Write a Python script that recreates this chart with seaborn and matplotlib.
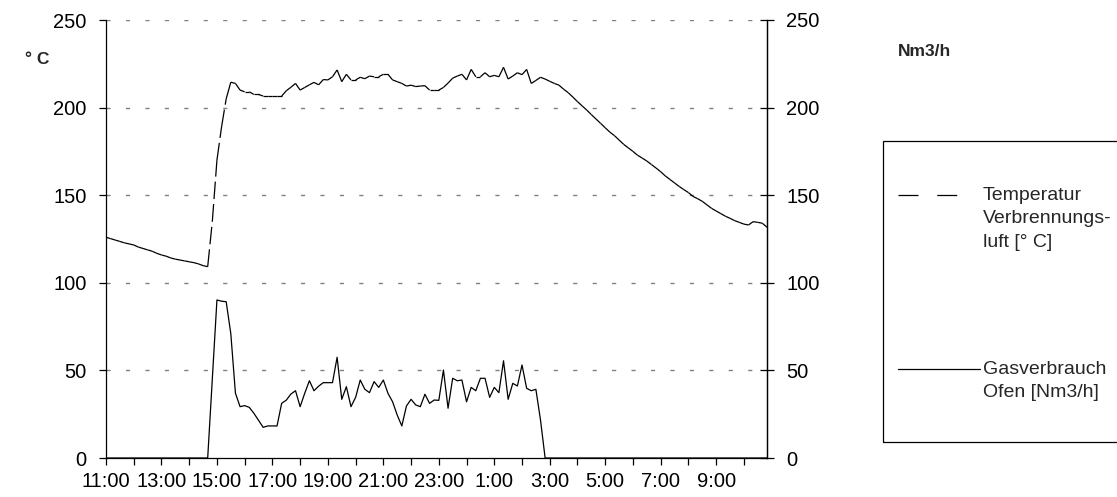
import numpy as np
import pandas as pd
import seaborn as sns
import matplotlib.pyplot as plt
from matplotlib.collections import LineCollection
from matplotlib.lines import Line2D
from matplotlib.patches import Rectangle

# 10-minute readings, 11:00 ... 10:50 next day
temp = [126, 125.2, 124.4, 123.6, 122.8, 122.2, 121.6, 120.4, 119.6, 118.8,
        118, 116.8, 115.9, 115.2, 114.2, 113.5, 113, 112.5, 112, 111.5,
        110.8, 109.8, 109.2,
        135, 170, 189, 205, 214.5,
        213.8, 210, 209, 209, 207.5, 207.5, 206.6, 206.6, 206.6, 206.6,
        206.6, 209.6, 211.6, 213.8, 210, 211.5, 213, 214.4, 213, 216,
        215.8, 217.6, 221.5, 214.8, 219, 215.8, 215.8, 217.3, 216.5, 218,
        217.6, 217.6, 219, 219, 215.8, 214.8, 213.8, 212.3, 212.8, 212,
        212.3, 212.5, 210, 210, 210, 211.5, 214, 216.8, 218, 219,
        215.8, 221.8, 217.6, 217.6, 219.9, 217.6, 218.4, 217.6, 223, 216.3,
        218, 219.9, 218.8, 221.8, 213.8, 215.5, 217.3, 216.3, 215, 213.8,
        212.8, 210.5, 208.5, 206, 203.4, 201, 198.6, 196, 193.5, 191,
        188.5, 186, 184, 181.5, 179, 177, 175, 172.8, 171.2, 169.5,
        167.5, 165.5, 163.4, 161, 159, 157, 155, 153.2, 151.5, 149.3,
        148, 146.5, 144.5, 142.5, 141, 139.5, 138, 136.8, 135.5, 134.5,
        133.5, 133, 134.9, 134.5, 134, 131.7]

gas = ([0] * 22 +
       [0, 45, 90.2, 89.5, 89.2, 71, 37, 29.3, 29.9, 28.9,
        25.5, 21.5, 17.5, 18.3, 18.3, 18.3, 31.2, 33, 36.5, 38.4,
        29.3, 37, 44.1, 38.4, 41, 43, 43, 43, 57.5, 33.5,
        40.7, 29.3, 34.6, 44.5, 39.2, 37.3, 43.6, 40.3, 44.5, 36.9,
        32.1, 24.5, 18.3, 29.7, 33.5, 30.3, 29.3, 36.4, 31.2, 33.1,
        32.9, 50.2, 28.4, 45.5, 44.1, 44.5, 32.1, 40.3, 38.4, 45.5,
        45.5, 34.6, 40.3, 37.3, 55.5, 33.5, 42.6, 41.1, 53.1, 39.8,
        38.4, 39.2, 21.7, 0] +
       [0] * 48)

hour_labels = ["11:00", "", "13:00", "", "15:00", "", "17:00", "", "19:00", "",
               "21:00", "", "23:00", "", "1:00", "", "3:00", "", "5:00", "",
               "7:00", "", "9:00", ""]
y_ticks = [0, 50, 100, 150, 200, 250]

assert len(temp) == len(gas) == 144

df = pd.DataFrame({"h": np.arange(len(temp)) / 6.0, "temp": temp, "gas": gas})

sns.set_theme(style="white")
plt.rcParams["font.family"] = ["Liberation Sans", "DejaVu Sans"]

fig = plt.figure(figsize=(11.17, 4.97), dpi=100)
ax = fig.add_axes([106 / 1117, 39 / 497, 661 / 1117, 438 / 497])

# gas consumption, solid
sns.lineplot(data=df, x="h", y="gas", ax=ax, color="black", lw=0.9)

# temperature: dash pattern restarts at every point (Excel style)
pts = df[["h", "temp"]].to_numpy()
segs = np.stack([pts[:-1], pts[1:]], axis=1)
ax.add_collection(LineCollection(segs, colors="black", linewidths=0.9,
                                 linestyles=[(0, (14, 4))]))

ax.set_xlim(0, 143 / 6.0)
ax.set_ylim(0, 250)
ax.set_xticks(range(len(hour_labels)))
ax.set_xticklabels(hour_labels)
ax.set_yticks(y_ticks)
ax.set_xlabel("")
ax.set_ylabel("")
for y in y_ticks[1:]:
    ax.axhline(y, color="#808080", lw=1.0, ls=(0, (3, 11)), zorder=0)

ax2 = ax.twinx()
ax2.set_ylim(0, 250)
ax2.set_yticks(y_ticks)

for a in (ax, ax2):
    a.spines["top"].set_visible(False)
    for s in a.spines.values():
        s.set_color("black")
        s.set_linewidth(0.9)
ax2.spines["left"].set_visible(False)
ax2.spines["bottom"].set_visible(False)

fs = 14.5
ax.tick_params(axis="both", direction="out", length=5, width=0.9, color="black",
               labelsize=fs, labelcolor="black", left=True, bottom=True)
ax.tick_params(axis="y", pad=9)
ax.tick_params(axis="x", pad=5)
ax2.tick_params(axis="y", direction="inout", length=10, width=0.9, color="black",
                labelsize=fs, labelcolor="black", right=True, pad=9)

fig.text(25 / 1117, 1 - 60 / 497, "° C", fontsize=12.5, fontweight="bold",
         va="center", ha="left")
fig.text(898 / 1117, 1 - 52 / 497, "Nm3/h", fontsize=12.5, fontweight="bold",
         va="center", ha="left")

# legend box
fig.add_artist(Rectangle((883 / 1117, 1 - 442 / 497), 300 / 1117, 301 / 497,
                         transform=fig.transFigure, fill=False,
                         edgecolor="black", lw=0.9))
fig.add_artist(Line2D([898 / 1117, 960 / 1117], [1 - 195 / 497] * 2,
                      transform=fig.transFigure, color="black", lw=0.9,
                      ls=(0, (16, 15))))
fig.add_artist(Line2D([898 / 1117, 980 / 1117], [1 - 369 / 497] * 2,
                      transform=fig.transFigure, color="black", lw=0.9))
for i, line in enumerate(["Temperatur", "Verbrennungs-", "luft [° C]"]):
    fig.text(983 / 1117, 1 - (195 + 23.5 * i) / 497, line, fontsize=14,
             va="center", ha="left")
for i, line in enumerate(["Gasverbrauch", "Ofen [Nm3/h]"]):
    fig.text(983 / 1117, 1 - (369 + 23.5 * i) / 497, line, fontsize=14,
             va="center", ha="left")

fig.savefig("out.png", dpi=100, facecolor="white")
